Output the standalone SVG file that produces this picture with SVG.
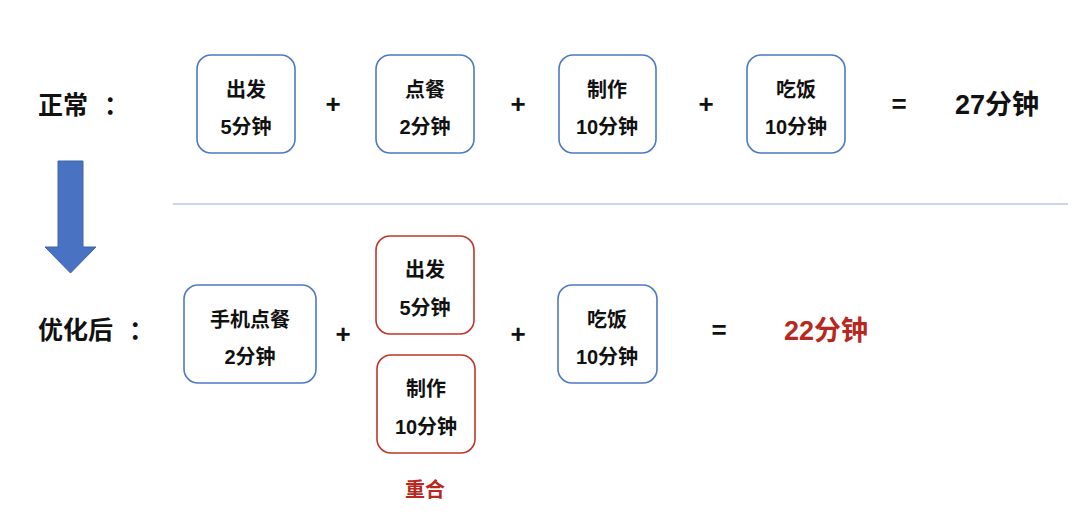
<svg xmlns="http://www.w3.org/2000/svg" width="1080" height="531" viewBox="0 0 1080 531">
<style>
text{font-family:"Liberation Sans","Noto Sans CJK SC",sans-serif;font-weight:bold;fill:#111;text-anchor:middle;dominant-baseline:central}
.b{fill:#fff;stroke:#4f78c6;stroke-width:1.6}
.r{fill:#fff;stroke:#c0352b;stroke-width:1.6}
.t{font-size:20px}
.op{font-size:26px}
.lbl{font-size:25px;text-anchor:start}
.res{font-size:27px}
.red{fill:#b8281e}
</style>
<rect width="1080" height="531" fill="#fff"/>
<g id="labels">
<text class="lbl" x="38" y="105">正常<tspan x="104">：</tspan></text>
<text class="lbl" x="38" y="330">优化后<tspan x="129">：</tspan></text>
</g>
<g id="arrow">
<polygon points="58,161 83,161 83,247 96,247 70.5,273 45,247 58,247" fill="#4a72c2" stroke="#3f63a8" stroke-width="1"/>
</g>
<g id="divider">
<line x1="173" y1="204" x2="1068" y2="204" stroke="#c9d6ea" stroke-width="2"/>
</g>
<g id="n1"><rect class="b" x="197" y="55" width="98" height="98" rx="14"/><text class="t" x="246" y="90">出发</text><text class="t" x="246" y="127">5分钟</text></g>
<g id="n2"><rect class="b" x="376" y="55" width="98" height="98" rx="14"/><text class="t" x="425" y="90">点餐</text><text class="t" x="425" y="127">2分钟</text></g>
<g id="n3"><rect class="b" x="559" y="55" width="97" height="98" rx="14"/><text class="t" x="607" y="90">制作</text><text class="t" x="607" y="127">10分钟</text></g>
<g id="n4"><rect class="b" x="747" y="55" width="98" height="98" rx="14"/><text class="t" x="796" y="90">吃饭</text><text class="t" x="796" y="127">10分钟</text></g>
<g id="ops1">
<text class="op" x="333" y="104">+</text>
<text class="op" x="518" y="104">+</text>
<text class="op" x="706" y="104">+</text>
<text class="op" x="899" y="104">=</text>
<text class="res" x="997" y="105">27分钟</text>
</g>
<g id="m1"><rect class="b" x="184" y="285" width="132" height="98" rx="14"/><text class="t" x="250" y="320">手机点餐</text><text class="t" x="250" y="357">2分钟</text></g>
<g id="m2"><rect class="r" x="376" y="236" width="98" height="98" rx="14"/><text class="t" x="425" y="270">出发</text><text class="t" x="425" y="308">5分钟</text></g>
<g id="m3"><rect class="r" x="377" y="355" width="98" height="98" rx="14"/><text class="t" x="426" y="389">制作</text><text class="t" x="426" y="427">10分钟</text></g>
<g id="m4"><rect class="b" x="558" y="285" width="99" height="98" rx="14"/><text class="t" x="607" y="320">吃饭</text><text class="t" x="607" y="357">10分钟</text></g>
<g id="ops2">
<text class="op" x="343" y="334">+</text>
<text class="op" x="518" y="334">+</text>
<text class="op" x="719" y="330">=</text>
<text class="res red" x="826" y="331">22分钟</text>
<text class="red" x="425" y="490" style="font-size:20px">重合</text>
</g>
</svg>
